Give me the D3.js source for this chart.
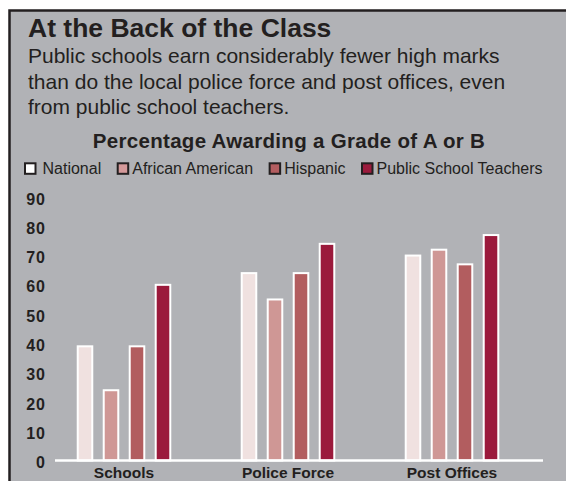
<!DOCTYPE html>
<html>
<head>
<meta charset="utf-8">
<title>At the Back of the Class</title>
<script src="https://cdn.jsdelivr.net/npm/d3@7/dist/d3.min.js"></script>
<style>
  body { margin: 0; background: #fff; }
  text { font-family: "Liberation Sans", Arial, Helvetica, sans-serif; fill: #231f20; }
</style>
</head>
<body>
<script>
// data
var categories = ["Schools", "Police Force", "Post Offices"];
var seriesNames = ["National", "African American", "Hispanic", "Public School Teachers"];
var national = [39, 64, 70];
var africanAmerican = [24, 55, 72];
var hispanic = [39, 64, 67];
var teachers = [60, 74, 77];
var yTicks = [0, 10, 20, 30, 40, 50, 60, 70, 80, 90];
var subtitleLines = [
  "Public schools earn considerably fewer high marks",
  "than do the local police force and post offices, even",
  "from public school teachers."
];

var barColors = ["#f0e1e0", "#cf9795", "#b25d5f", "#9b1a3c"];
var legendColors = ["#ffffff", "#d4999a", "#b35d60", "#9b1b3d"];
var allSeries = [national, africanAmerican, hispanic, teachers];

var W = 566, H = 481;
var svg = d3.select("body").append("svg")
  .attr("width", W)
  .attr("height", H);

// panel
svg.append("rect")
  .attr("x", 9.5).attr("y", 10.5)
  .attr("width", 600).attr("height", 500)
  .attr("fill", "#b1b2b6")
  .attr("stroke", "#231f20")
  .attr("stroke-width", 2.5);

svg.append("text")
  .attr("x", 28).attr("y", 36.5)
  .attr("font-size", 26.5).attr("font-weight", "bold")
  .text("At the Back of the Class");

svg.selectAll("text.sub").data(subtitleLines).enter()
  .append("text").attr("class", "sub")
  .attr("x", 28)
  .attr("y", function (d, i) { return 63.3 + i * 25.5; })
  .attr("font-size", 21)
  .text(function (d) { return d; });

svg.append("text")
  .attr("x", 289).attr("y", 147.7)
  .attr("text-anchor", "middle")
  .attr("font-size", 20.5).attr("font-weight", "bold")
  .attr("letter-spacing", 0.3)
  .text("Percentage Awarding a Grade of A or B");

// legend, laid out left to right
var lx = 24;
seriesNames.forEach(function (name, i) {
  svg.append("rect")
    .attr("x", lx + 1).attr("y", 163.3)
    .attr("width", 10.5).attr("height", 10.5)
    .attr("fill", legendColors[i])
    .attr("stroke", "#231f20").attr("stroke-width", 2);
  var tx = lx + 12.5 + (i == 0 ? 6 : 3);
  var t = svg.append("text")
    .attr("x", tx).attr("y", 174)
    .attr("font-size", 16)
    .text(name);
  lx = tx + t.node().getComputedTextLength() + 15.5;
});

// scales
var y = d3.scaleLinear().domain([0, 90]).range([460.5, 197]);
var x0 = d3.scaleBand().domain(categories).range([42, 534]);
var x1 = d3.scaleBand().domain(seriesNames).range([-52, 52])
  .paddingInner(0.44).paddingOuter(0.22);

var yAxis = svg.append("g")
  .attr("transform", "translate(46,2)")
  .call(d3.axisLeft(y).tickValues(yTicks).tickSize(0).tickPadding(0).tickFormat(d3.format("d")));
yAxis.select(".domain").remove();
yAxis.attr("font-family", null);
yAxis.selectAll("text")
  .attr("font-size", 16).attr("font-weight", "bold")
  .attr("letter-spacing", 1)
  .attr("fill", "#231f20");

// bars
var groups = svg.selectAll("g.grp").data(categories).enter()
  .append("g").attr("class", "grp")
  .attr("transform", function (d) { return "translate(" + (x0(d) + x0.bandwidth() / 2) + ",0)"; });

groups.selectAll("rect")
  .data(function (d, ci) {
    return seriesNames.map(function (s, si) { return { s: s, si: si, v: allSeries[si][ci] }; });
  })
  .enter().append("rect")
  .attr("x", function (d) { return x1(d.s); })
  .attr("width", x1.bandwidth())
  .attr("y", function (d) { return y(d.v); })
  .attr("height", function (d) { return y(0) - y(d.v); })
  .attr("fill", function (d) { return barColors[d.si]; })
  .attr("stroke", "#fff")
  .attr("stroke-width", 2);

// baseline
svg.append("line")
  .attr("x1", 55).attr("x2", 543)
  .attr("y1", y(0)).attr("y2", y(0))
  .attr("stroke", "#fff").attr("stroke-width", 2.5);

var xAxis = svg.append("g")
  .attr("transform", "translate(0," + y(0) + ")")
  .call(d3.axisBottom(x0).tickSize(0));
xAxis.select(".domain").remove();
xAxis.attr("font-family", null);
xAxis.selectAll("text")
  .attr("y", 17.5).attr("dy", 0)
  .attr("font-size", 15.5).attr("font-weight", "bold")
  .attr("fill", "#231f20");
</script>
</body>
</html>
